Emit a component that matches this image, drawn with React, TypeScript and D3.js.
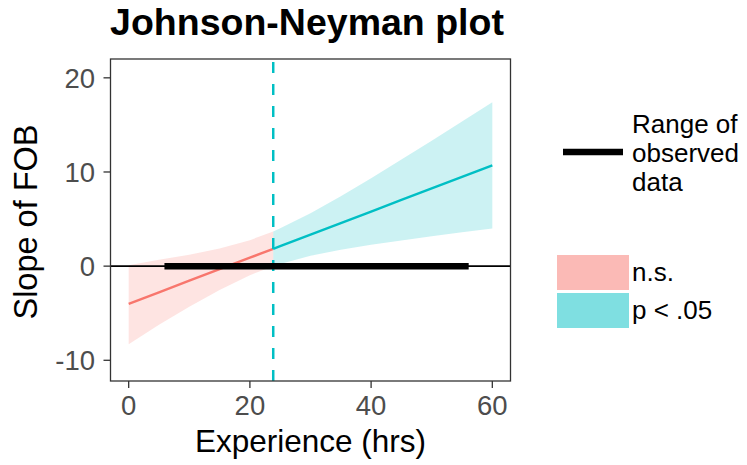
import React from "react";
import * as d3 from "d3";

const W = 747;
const H = 465;

// Slope of FOB
const xsNS = [0, 5, 10, 15, 20, 23.85];
const slopeNS = [-4.0, -2.78, -1.55, -0.33, 0.9, 1.84];
const loNS = [-8.3, -6.23, -4.31, -2.53, -0.96, 0.0];
const hiNS = [0.1, 0.67, 1.21, 1.87, 2.76, 3.68];

const xsSig = [23.85, 25, 30, 35, 40, 45, 50, 55, 60];
const slopeSig = [1.84, 2.13, 3.35, 4.58, 5.8, 7.03, 8.25, 9.48, 10.7];
const loSig = [0.0, 0.24, 1.09, 1.73, 2.26, 2.73, 3.17, 3.59, 4.0];
const hiSig = [3.68, 4.02, 5.61, 7.43, 9.34, 11.33, 13.33, 15.37, 17.4];

const jnPoint = 23.85;
const observedRange = [5.9, 56.1];

const xTicks = [0, 20, 40, 60];
const yTicks = [-10, 0, 10, 20];

const legendSig = ["n.s.", "p < .05"];
const legendRange = ["Range of", "observed", "data"];

const COL_NS = "#F8766D";
const COL_SIG = "#00BFC4";
const FONT = "'Liberation Sans', Arial, Helvetica, sans-serif";

export default function App() {
  const left = 110.5, right = 510.5, top = 59, bottom = 381;
  const x = d3.scaleLinear().domain([-3, 63]).range([left, right]);
  const y = d3.scaleLinear().domain([-12.2, 22]).range([bottom, top]);

  const nsData = xsNS.map((v, i) => ({ x: v, s: slopeNS[i], lo: loNS[i], hi: hiNS[i] }));
  const sigData = xsSig.map((v, i) => ({ x: v, s: slopeSig[i], lo: loSig[i], hi: hiSig[i] }));

  const area = d3
    .area<{ x: number; lo: number; hi: number }>()
    .x((d) => x(d.x))
    .y0((d) => y(d.lo))
    .y1((d) => y(d.hi));
  const line = d3
    .line<{ x: number; s: number }>()
    .x((d) => x(d.x))
    .y((d) => y(d.s));

  return (
    <div style={{ position: "absolute", left: 0, top: 0 }}>
      <svg width={W} height={H} style={{ display: "block", fontFamily: FONT }}>
        <rect x={0} y={0} width={W} height={H} fill="#fff" />
        <defs>
          <clipPath id="panel">
            <rect x={left} y={top} width={right - left} height={bottom - top} />
          </clipPath>
        </defs>
        <g clipPath="url(#panel)">
          <path d={area(nsData) || ""} fill={COL_NS} fillOpacity={0.2} />
          <path d={area(sigData) || ""} fill={COL_SIG} fillOpacity={0.2} />
          <path d={line(nsData) || ""} fill="none" stroke={COL_NS} strokeWidth={2.4} />
          <path d={line(sigData) || ""} fill="none" stroke={COL_SIG} strokeWidth={2.4} />
          <line x1={left} x2={right} y1={y(0)} y2={y(0)} stroke="#000" strokeWidth={1.8} />
          <line
            x1={x(jnPoint)}
            x2={x(jnPoint)}
            y1={bottom}
            y2={top}
            stroke={COL_SIG}
            strokeWidth={2.5}
            strokeDasharray="11,11"
          />
          <line
            x1={x(observedRange[0])}
            x2={x(observedRange[1])}
            y1={y(0)}
            y2={y(0)}
            stroke="#000"
            strokeWidth={6.5}
          />
        </g>
        <rect
          x={left}
          y={top}
          width={right - left}
          height={bottom - top}
          fill="none"
          stroke="#333"
          strokeWidth={1.3}
        />
        {/* y axis */}
        {yTicks.map((t) => (
          <g key={"y" + t}>
            <line x1={left - 7} x2={left} y1={y(t)} y2={y(t)} stroke="#333" strokeWidth={1.3} />
            <text
              x={95}
              y={y(t)}
              dy="0.36em"
              textAnchor="end"
              fontSize={27.5}
              fill="#4D4D4D"
            >
              {t}
            </text>
          </g>
        ))}
        {/* x axis */}
        {xTicks.map((t) => (
          <g key={"x" + t}>
            <line x1={x(t)} x2={x(t)} y1={bottom} y2={bottom + 7} stroke="#333" strokeWidth={1.3} />
            <text x={x(t)} y={415} textAnchor="middle" fontSize={27.5} fill="#4D4D4D">
              {t}
            </text>
          </g>
        ))}
        <text x={(left + right) / 2} y={451.5} textAnchor="middle" fontSize={31.5} fill="#000">
          Experience (hrs)
        </text>
        <text
          transform={`translate(37, ${(top + bottom) / 2 + 2}) rotate(-90)`}
          textAnchor="middle"
          fontSize={32.5}
          fill="#000"
        >
          Slope of FOB
        </text>
        <text x={307} y={35} textAnchor="middle" fontSize={37.5} fontWeight="bold" fill="#000">
          Johnson-Neyman plot
        </text>
        {/* legend: range */}
        <line x1={563} x2={623} y1={152} y2={152} stroke="#000" strokeWidth={6.7} />
        {legendRange.map((s, i) => (
          <text key={s} x={632} y={133 + i * 29} fontSize={26} fill="#000">
            {s}
          </text>
        ))}
        {/* legend: significance */}
        {legendSig.map((s, i) => (
          <g key={s}>
            <rect
              x={557}
              y={255 + i * 38}
              width={72}
              height={35}
              fill={i === 0 ? COL_NS : COL_SIG}
              fillOpacity={0.5}
            />
            <text x={632} y={272 + i * 38} dy="0.36em" fontSize={26} fill="#000">
              {s}
            </text>
          </g>
        ))}
      </svg>
    </div>
  );
}
